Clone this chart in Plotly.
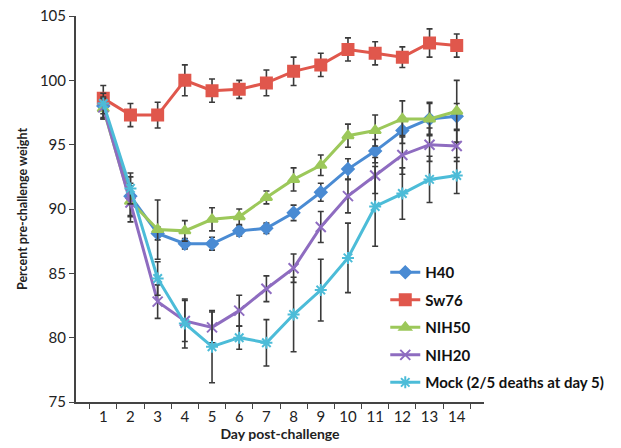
import plotly.graph_objects as go

days = [str(d) for d in range(1, 15)]

h40 = [98.0, 91.0, 88.1, 87.3, 87.3, 88.3, 88.5, 89.7, 91.3, 93.1, 94.5, 96.1, 97.0, 97.2]
h40_err = [1.0, 1.5, 0.5, 0.4, 0.5, 0.4, 0.4, 0.6, 0.7, 0.8, 0.9, 1.0, 1.2, 1.0]

sw76 = [98.6, 97.3, 97.3, 100.0, 99.2, 99.3, 99.8, 100.7, 101.2, 102.4, 102.1, 101.8, 102.9, 102.7]
sw76_err = [1.0, 0.9, 1.0, 1.2, 0.9, 0.7, 1.0, 1.1, 0.9, 0.9, 0.9, 0.8, 1.1, 0.9]

nih50 = [97.8, 90.6, 88.4, 88.3, 89.2, 89.4, 90.9, 92.3, 93.4, 95.7, 96.1, 97.0, 97.0, 97.6]
nih50_err = [0.8, 1.2, 2.3, 0.8, 0.9, 0.6, 0.5, 0.9, 0.8, 0.9, 1.2, 1.4, 1.3, 2.4]

nih20 = [97.9, 90.5, 82.8, 81.3, 80.8, 82.1, 83.8, 85.4, 88.6, 91.0, 92.6, 94.2, 95.0, 94.9]
nih20_err = [0.8, 1.5, 1.3, 1.6, 1.2, 1.2, 1.0, 1.1, 1.2, 1.3, 1.4, 1.5, 1.3, 1.2]

mock = [98.2, 91.6, 84.6, 81.1, 79.3, 80.0, 79.6, 81.8, 83.7, 86.2, 90.2, 91.2, 92.3, 92.6]
mock_err = [0.8, 1.2, 1.3, 1.9, 2.8, 0.9, 1.8, 2.9, 2.4, 2.7, 3.1, 2.0, 1.8, 1.4]

series = [
    ("H40", h40, h40_err, "#4a8bd3", "diamond", 9),
    ("Sw76", sw76, sw76_err, "#e0574c", "square", 11),
    ("NIH50", nih50, nih50_err, "#9cc85a", "triangle-up", 10),
    ("NIH20", nih20, nih20_err, "#8e6cc0", "x-thin-open", 10),
    ("Mock (2/5 deaths at day 5)", mock, mock_err, "#4cbcd8", "asterisk-open", 10),
]

fig = go.Figure()
for name, vals, err, color, sym, size in series:
    fig.add_trace(go.Scatter(
        x=days, y=vals, name=name, mode="lines+markers", legendgroup=name,
        line=dict(color=color, width=3),
        marker=dict(symbol=sym, size=size, color=color,
                    line=dict(color=color, width=2)),
        error_y=dict(type="data", array=err, visible=True,
                     color="#3a3a3a", thickness=1.6, width=3),
    ))

fig.update_layout(
    width=621, height=448,
    margin=dict(l=76, r=121, t=16, b=46),
    plot_bgcolor="white", paper_bgcolor="white",
    font=dict(family="Lato, Open Sans, sans-serif", color="#222", size=15),
    showlegend=True,
    legend=dict(x=0.758, y=0.378, xanchor="left", yanchor="top",
                bgcolor="rgba(255,255,255,0.85)",
                font=dict(size=15, color="#111", family="Lato, sans-serif", weight="bold"),
                tracegroupgap=5, itemwidth=30),
)
fig.update_xaxes(
    type="category", tickson="boundaries", ticks="outside", ticklen=5,
    tickcolor="#444", showline=True, linecolor="#444", linewidth=2,
    showgrid=False, tickfont=dict(size=15), automargin=False,
    title=dict(text="<b>Day post-challenge</b>", font=dict(size=14), standoff=5),
)
fig.update_yaxes(
    range=[75, 105], dtick=5, ticks="outside", ticklen=5, tickcolor="#444",
    showline=True, linecolor="#444", linewidth=2, showgrid=False, zeroline=False,
    tickfont=dict(size=15), automargin=False,
    title=dict(text="<b>Percent pre-challenge weight</b>", font=dict(size=12.5), standoff=10),
)

fig.write_html("out.html",
               config={"displayModeBar": False},
               post_script="document.body.style.margin='0';")
